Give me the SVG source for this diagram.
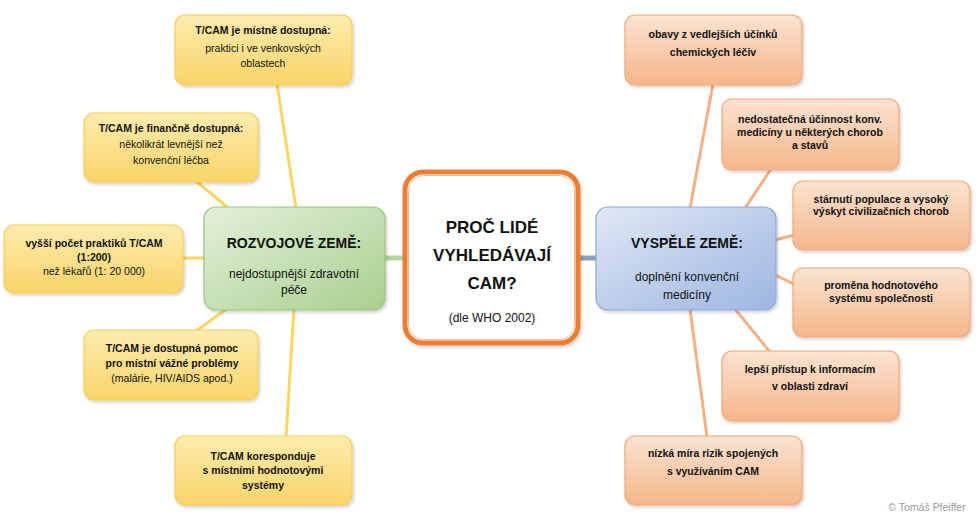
<svg xmlns="http://www.w3.org/2000/svg" width="980" height="522" viewBox="0 0 980 522">
<defs>
<linearGradient id="gy" x1="0" y1="0" x2="0" y2="1"><stop offset="0" stop-color="#fdecae"/><stop offset="1" stop-color="#f9d468"/></linearGradient>
<linearGradient id="go" x1="0" y1="0" x2="0" y2="1"><stop offset="0" stop-color="#fbe3d2"/><stop offset="1" stop-color="#f5b68a"/></linearGradient>
<linearGradient id="gg" x1="0" y1="0" x2="1" y2="1"><stop offset="0" stop-color="#e4f0da"/><stop offset="1" stop-color="#a9cf8f"/></linearGradient>
<linearGradient id="gb" x1="0" y1="0" x2="1" y2="1"><stop offset="0" stop-color="#e0e8f6"/><stop offset="1" stop-color="#9db5e0"/></linearGradient>
<filter id="sh" x="-10%" y="-10%" width="125%" height="130%"><feDropShadow dx="1.5" dy="2" stdDeviation="1.5" flood-color="#000" flood-opacity="0.18"/></filter>
</defs>
<style>
text{font-family:"Liberation Sans",Arial,sans-serif;fill:#111;text-anchor:middle}
.b{font-weight:bold;font-size:10.5px}
.n{font-size:10.5px}
.h{font-weight:bold;font-size:14px}
.m{font-size:12px}
.c{font-weight:bold;font-size:17px}
.y{fill:url(#gy);stroke:#f5cf55;stroke-width:1.2;filter:url(#sh)}
.o{fill:url(#go);stroke:#f2a875;stroke-width:1.2;filter:url(#sh)}
.ly{stroke:#f9d65e;stroke-width:3;fill:none}
.lo{stroke:#f4b183;stroke-width:3;fill:none}
</style>
<rect width="980" height="522" fill="#fff"/>
<g id="connectors">
<line class="ly" x1="277" y1="84" x2="296" y2="208"/>
<line class="ly" x1="196" y1="181" x2="233" y2="212"/>
<line class="ly" x1="182" y1="258" x2="205" y2="258"/>
<line class="ly" x1="196" y1="331" x2="232" y2="305"/>
<line class="ly" x1="286" y1="437" x2="294" y2="309"/>
<line x1="385" y1="258" x2="404" y2="258" stroke="#b7d79e" stroke-width="5"/>
<line x1="579" y1="258" x2="597" y2="258" stroke="#8c9fbb" stroke-width="5"/>
<line class="lo" x1="713" y1="84" x2="690" y2="208"/>
<line class="lo" x1="771" y1="169" x2="745" y2="208"/>
<line class="lo" x1="794" y1="235" x2="775" y2="240"/>
<line class="lo" x1="794" y1="284" x2="775" y2="275"/>
<line class="lo" x1="770" y1="352" x2="735" y2="309"/>
<line class="lo" x1="707" y1="437" x2="690" y2="309"/>
</g>
<g id="y1"><rect class="y" x="175" y="15" width="177" height="70" rx="10"/>
<text class="b" x="263" y="34">T/CAM je místně dostupná:</text>
<text class="n" x="263" y="52">praktici i ve venkovských</text>
<text class="n" x="263" y="67">oblastech</text></g>
<g id="y2"><rect class="y" x="84" y="113" width="174" height="69" rx="10"/>
<text class="b" x="171" y="132">T/CAM je finančně dostupná:</text>
<text class="n" x="171" y="148">několikrát levnější než</text>
<text class="n" x="171" y="164">konvenční léčba</text></g>
<g id="y3"><rect class="y" x="4" y="225" width="179" height="68" rx="10"/>
<text class="b" x="94" y="247">vyšší počet praktiků T/CAM</text>
<text class="b" x="94" y="261">(1:200)</text>
<text class="n" x="94" y="275">než lékařů (1: 20 000)</text></g>
<g id="y4"><rect class="y" x="84" y="330" width="174" height="70" rx="10"/>
<text class="b" x="172" y="352">T/CAM je dostupná pomoc</text>
<text class="b" x="172" y="367">pro místní vážné problémy</text>
<text class="n" x="172" y="382">(malárie, HIV/AIDS apod.)</text></g>
<g id="y5"><rect class="y" x="175" y="436" width="177" height="69" rx="10"/>
<text class="b" x="263" y="460">T/CAM koresponduje</text>
<text class="b" x="263" y="474">s místními hodnotovými</text>
<text class="b" x="263" y="489">systémy</text></g>
<g id="green"><rect x="204" y="207" width="181" height="103" rx="12" fill="url(#gg)" stroke="#9cc47e" stroke-width="1.2" filter="url(#sh)"/>
<text class="h" x="294" y="248">ROZVOJOVÉ ZEMĚ:</text>
<text class="m" x="294" y="278">nejdostupnější zdravotní</text>
<text class="m" x="294" y="294">péče</text></g>
<g id="center"><rect x="405" y="172" width="173" height="171" rx="18" fill="#fff" stroke="#ed7d31" stroke-width="5" filter="url(#sh)"/>
<rect x="408.5" y="175.5" width="166" height="164" rx="15" fill="none" stroke="#f6b98c" stroke-width="1"/>
<text class="c" x="492" y="233">PROČ LIDÉ</text>
<text class="c" x="492" y="261">VYHLEDÁVAJÍ</text>
<text class="c" x="492" y="289">CAM?</text>
<text class="m" x="492" y="322">(dle WHO 2002)</text></g>
<g id="blue"><rect x="596" y="207" width="180" height="103" rx="12" fill="url(#gb)" stroke="#8ea9d8" stroke-width="1.2" filter="url(#sh)"/>
<text class="h" x="687" y="248">VYSPĚLÉ ZEMĚ:</text>
<text class="m" x="687" y="281">doplnění konvenční</text>
<text class="m" x="687" y="299">medicíny</text></g>
<g id="o1"><rect class="o" x="625" y="15" width="177" height="70" rx="10"/>
<text class="b" x="713" y="38">obavy z vedlejších účinků</text>
<text class="b" x="713" y="56">chemických léčiv</text></g>
<g id="o2"><rect class="o" x="722" y="99" width="177" height="71" rx="10"/>
<text class="b" x="810" y="123">nedostatečná účinnost konv.</text>
<text class="b" x="810" y="136">medicíny u některých chorob</text>
<text class="b" x="810" y="149">a stavů</text></g>
<g id="o3"><rect class="o" x="793" y="181" width="177" height="69" rx="10"/>
<text class="b" x="881" y="203">stárnutí populace a vysoký</text>
<text class="b" x="881" y="215">výskyt civilizačních chorob</text></g>
<g id="o4"><rect class="o" x="793" y="268" width="177" height="69" rx="10"/>
<text class="b" x="881" y="289">proměna hodnotového</text>
<text class="b" x="881" y="302">systému společnosti</text></g>
<g id="o5"><rect class="o" x="722" y="351" width="177" height="70" rx="10"/>
<text class="b" x="810" y="373">lepší přístup k informacím</text>
<text class="b" x="810" y="390">v oblasti zdraví</text></g>
<g id="o6"><rect class="o" x="625" y="436" width="177" height="69" rx="10"/>
<text class="b" x="713" y="457">nízká míra rizik spojených</text>
<text class="b" x="713" y="475">s využíváním CAM</text></g>
<text x="927" y="511" style="font-size:10.5px;fill:#999">© Tomáš Pfeiffer</text>
</svg>
